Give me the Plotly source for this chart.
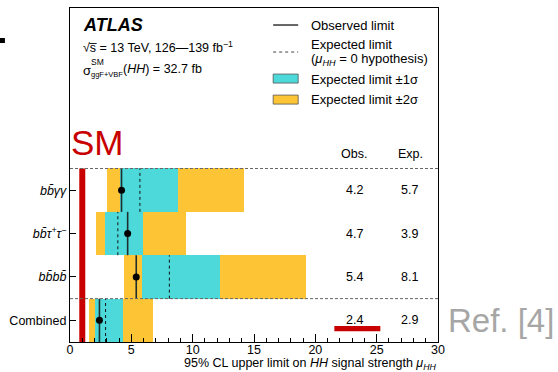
import plotly.graph_objects as go

# ---------------- data ----------------
channels = ["<i>bb̄γγ</i>", "<i>bb̄τ<sup>+</sup>τ<sup>−</sup></i>", "<i>bb̄bb̄</i>", "Combined"]
row_pos = [3, 2, 1, 0]
obs_limit = [4.2, 4.7, 5.4, 2.4]
exp_limit = [5.7, 3.9, 8.1, 2.9]
minus1 = [4.1, 2.85, 5.85, 2.05]
plus1 = [8.8, 5.95, 12.2, 4.35]
minus2 = [3.05, 2.1, 4.4, 1.55]
plus2 = [14.2, 9.45, 19.2, 6.75]
obs_text = ["4.2", "4.7", "5.4", "2.4"]
exp_text = ["5.7", "3.9", "8.1", "2.9"]
sm_value = 1.0
x_ticks = [0, 5, 10, 15, 20, 25, 30]

CYAN = "#4dd9d9"
YELLOW = "#fdc536"
RED = "#c80000"
FONT = "Liberation Sans, Arial, Helvetica, sans-serif"

W, H = 558, 372
L, R, T, B = 70, 437.7, 8, 341.7


def px(x):
    return (x - L) / (R - L)


def py(y):
    return (B - y) / (B - T)


fig = go.Figure()

# +-2 sigma
fig.add_trace(go.Bar(
    y=row_pos, x=[b - a for a, b in zip(minus2, plus2)], base=minus2,
    orientation="h", width=1.0, marker=dict(color=YELLOW, line=dict(width=0)),
    showlegend=False, hoverinfo="skip"))
# +-1 sigma
fig.add_trace(go.Bar(
    y=row_pos, x=[b - a for a, b in zip(minus1, plus1)], base=minus1,
    orientation="h", width=1.0, marker=dict(color=CYAN, line=dict(width=0)),
    showlegend=False, hoverinfo="skip"))

# expected dotted lines
ex, ey = [], []
for v, r in zip(exp_limit, row_pos):
    ex += [v, v, None]
    ey += [r - 0.5, r + 0.5, None]
fig.add_trace(go.Scatter(x=ex, y=ey, mode="lines",
                         line=dict(color="#111", width=1, dash="dot"),
                         showlegend=False, hoverinfo="skip"))

# observed lines
ox, oy = [], []
for v, r in zip(obs_limit, row_pos):
    ox += [v, v, None]
    oy += [r - 0.5, r + 0.5, None]
fig.add_trace(go.Scatter(x=ox, y=oy, mode="lines",
                         line=dict(color="#1e2e2e", width=1.6),
                         showlegend=False, hoverinfo="skip"))
fig.add_trace(go.Scatter(x=obs_limit, y=row_pos, mode="markers",
                         marker=dict(color="black", size=7),
                         showlegend=False, hoverinfo="skip"))

# SM line
fig.add_trace(go.Scatter(x=[sm_value, sm_value], y=[-0.5, 3.5], mode="lines",
                         line=dict(color=RED, width=6),
                         showlegend=False, hoverinfo="skip"))

shapes = []
# separators
for yv in [0.5, 3.5]:
    shapes.append(dict(type="line", xref="paper", yref="y", x0=0, x1=1, y0=yv, y1=yv,
                       line=dict(color="#666", width=1, dash="3px,2px")))
# red highlight under combined obs
shapes.append(dict(type="rect", xref="x", yref="y", x0=21.55, x1=25.3, y0=-0.25, y1=-0.13,
                   fillcolor=RED, line=dict(width=0)))

# legend samples
shapes.append(dict(type="line", xref="paper", yref="paper", x0=px(273), x1=px(298),
                   y0=py(25), y1=py(25), line=dict(color="black", width=1.2)))
shapes.append(dict(type="line", xref="paper", yref="paper", x0=px(273), x1=px(298),
                   y0=py(52), y1=py(52), line=dict(color="#444", width=1, dash="dot")))
shapes.append(dict(type="rect", xref="paper", yref="paper", x0=px(273), x1=px(298),
                   y0=py(83), y1=py(74), fillcolor=CYAN, line=dict(color="#555", width=0.8)))
shapes.append(dict(type="rect", xref="paper", yref="paper", x0=px(273), x1=px(298),
                   y0=py(104), y1=py(95), fillcolor=YELLOW, line=dict(color="#555", width=0.8)))
# small bullet at far left
shapes.append(dict(type="rect", xref="paper", yref="paper", x0=px(0), x1=px(5),
                   y0=py(43), y1=py(38), fillcolor="black", line=dict(width=0)))

ann = []


def text(x, y, s, size=12, color="black", xanchor="left", xref="paper", yref="paper", **kw):
    ann.append(dict(x=x, y=y, xref=xref, yref=yref, text=s, showarrow=False,
                    xanchor=xanchor, yanchor="middle",
                    font=dict(family=FONT, size=size, color=color), **kw))


text(px(81), py(25), "<b><i>ATLAS</i></b>", size=18)
text(px(81), py(47), "√s̅ = 13 TeV, 126—139 fb<sup>−1</sup>", size=12.5)
text(px(81), py(70), "σ", size=13)
text(px(89), py(62), "SM", size=8.5)
text(px(89), py(74), "ggF+VBF", size=7.5)
text(px(121), py(69), "(<i>HH</i>) = 32.7 fb", size=12.5)

text(px(309), py(25), "Observed limit", size=13)
text(px(309), py(44), "Expected limit", size=13)
text(px(309), py(59), "(<i>μ<sub>HH</sub></i> = 0 hypothesis)", size=13)
text(px(309), py(79), "Expected limit ±1σ", size=13)
text(px(309), py(99), "Expected limit ±2σ", size=13)

text(px(354), py(154), "Obs.", size=12.5, xanchor="center")
text(px(410), py(154), "Exp.", size=12.5, xanchor="center")
for o, e, r in zip(obs_text, exp_text, row_pos):
    text(23.2, r, o, size=12.5, xanchor="center", xref="x", yref="y")
    text(27.7, r, e, size=12.5, xanchor="center", xref="x", yref="y")

text(px(69), py(142), "SM", size=35, color=RED)
text(px(446), py(320), "Ref. [4]", size=33, color="#a6a6a6")
text(1.0, py(364), "95% CL upper limit on <i>HH</i> signal strength <i>μ<sub>HH</sub></i>",
     size=12.5, xanchor="right")

fig.update_layout(
    width=W, height=H,
    margin=dict(l=L, r=W - R, t=T, b=H - B, pad=0),
    paper_bgcolor="white", plot_bgcolor="white",
    barmode="overlay", bargap=0,
    font=dict(family=FONT, size=12, color="black"),
    shapes=shapes, annotations=ann,
    showlegend=False,
)
fig.update_xaxes(range=[0, 30], tickvals=x_ticks, ticks="inside", ticklen=8, tickwidth=1,
                 tickcolor="black", showgrid=False, zeroline=False, automargin=False,
                 showline=True, linecolor="black", linewidth=1.3, mirror=True,
                 tickfont=dict(size=12.5), ticklabelstandoff=-4,
                 minor=dict(dtick=1, ticks="inside", ticklen=4, tickcolor="black", tickwidth=1))
fig.update_yaxes(range=[-0.5, 7.2], tickvals=row_pos, ticktext=channels, ticks="inside",
                 ticklen=6, tickwidth=1, tickcolor="black", showgrid=False, zeroline=False,
                 automargin=False,
                 showline=True, linecolor="black", linewidth=1.3, mirror=True,
                 tickfont=dict(size=12.5))

fig.write_html("out.html", config={"displayModeBar": False},
               post_script="document.body.style.margin='0';document.body.style.overflow='hidden';")
